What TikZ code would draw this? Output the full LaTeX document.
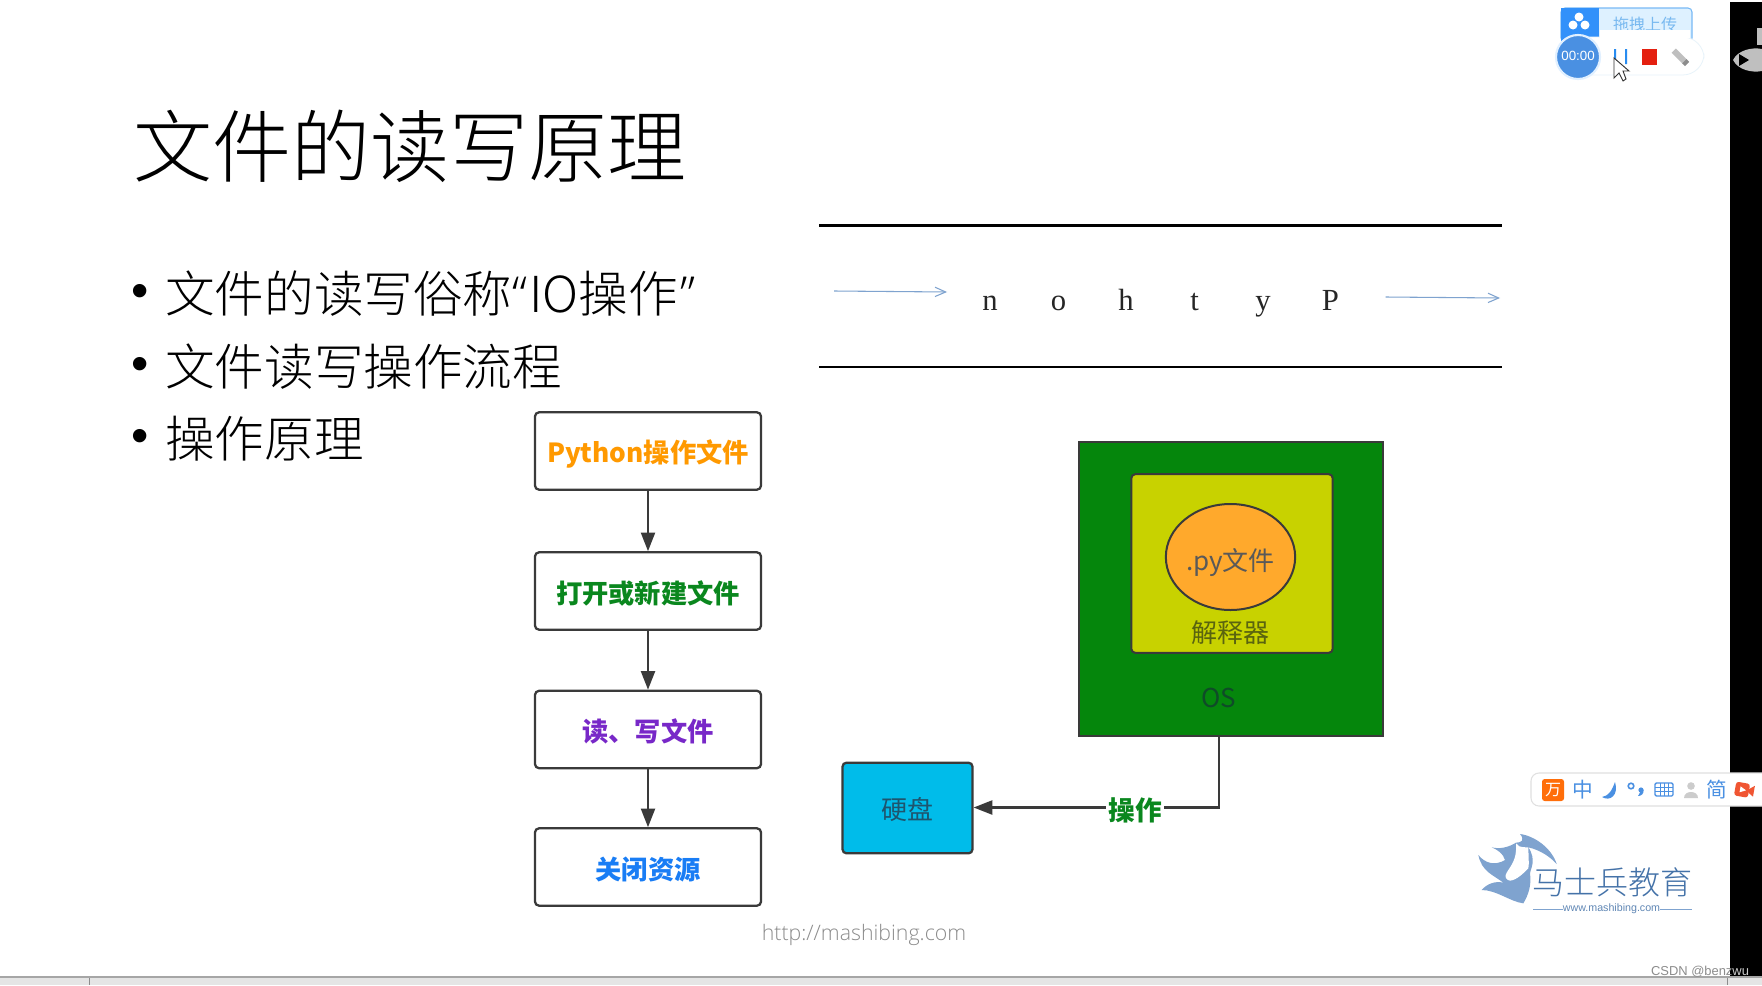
\documentclass[tikz,border=0pt]{standalone}
\usepackage{fontspec}
\usetikzlibrary{arrows.meta,shapes.geometric,calc}
\setmainfont{Liberation Sans}
\newfontfamily\cjk{Noto Sans CJK SC}
\newfontfamily\cjklight[UprightFont=* Light]{Noto Sans CJK SC}
\newfontfamily\serifl{Liberation Serif}
\newfontfamily\urlf[UprightFont=* Light]{Open Sans}
\newfontfamily\quotef[UprightFont=* Light]{Open Sans}
\definecolor{osgreen}{HTML}{05860C}
\definecolor{interp}{HTML}{C8D200}
\definecolor{orangefill}{HTML}{FFA92C}
\definecolor{cyanfill}{HTML}{00BCEA}
\definecolor{edge}{HTML}{3A3A3A}
\definecolor{logoblue}{HTML}{7FA3CF}
\definecolor{logotext}{HTML}{4472A8}
\definecolor{imeblue}{HTML}{4A90E2}
\definecolor{txorange}{RGB}{255,153,0}
\definecolor{txgreen}{RGB}{10,135,30}
\definecolor{txpurple}{RGB}{120,40,200}
\definecolor{txblue}{RGB}{25,125,245}
\definecolor{txinterp}{RGB}{90,100,15}
\definecolor{txos}{RGB}{15,75,40}
\definecolor{txdisk}{RGB}{30,85,110}
\definecolor{uplight}{RGB}{222,241,255}
\definecolor{upedge}{RGB}{120,185,245}
\definecolor{upblue}{RGB}{50,145,250}
\definecolor{uptext}{RGB}{120,185,240}
\definecolor{strip}{RGB}{232,243,250}
\definecolor{ring}{RGB}{225,240,255}
\definecolor{pausec}{RGB}{40,140,240}
\definecolor{recred}{RGB}{228,32,16}
\definecolor{imeorange}{RGB}{255,110,10}
\definecolor{camred}{RGB}{240,85,50}
\newcommand{\lowered}[2]{\raisebox{-#1pt}[0pt][0pt]{#2}}
\tikzset{
  flowbox/.style={draw=edge,line width=1.7pt,rounded corners=3pt,fill=white,minimum width=169.5pt,minimum height=58pt,inner sep=0pt,font=\cjk\bfseries\fontsize{19.7pt}{24pt}\selectfont},
  flowarrow/.style={draw=edge,line width=1.7pt,-{Triangle[length=14pt,width=10.5pt]}},
  slidetext/.style={anchor=west,inner sep=0pt,font=\cjklight\fontsize{37.2pt}{40pt}\selectfont},
  bulletmark/.style={anchor=center,inner sep=0pt,font=\fontsize{37pt}{40pt}\selectfont},
  rule/.style={line width=2pt,black},
  thinarrow/.style={draw=logoblue,line width=.8pt,-{Straight Barb[length=8pt,width=7pt]}},
  letter/.style={anchor=base,inner sep=0pt,font=\serifl\fontsize{23pt}{25pt}\selectfont,text=black!85},
  difflabel/.style={inner sep=0pt,font=\cjk\fontsize{19.5pt}{22pt}\selectfont},
  imeicon/.style={inner sep=0pt,text=imeblue,font=\cjk\fontsize{15.5pt}{16pt}\selectfont}
}
\begin{document}
\begin{tikzpicture}[x=.75pt,y=-.75pt]
\useasboundingbox (0,0) rectangle (1762,985);
\fill[white] (0,0) rectangle (1762,985);
% right black bar and bottom bar
\fill[black] (1730,2) rectangle (1762,976);
\fill[white] (1731,773) rectangle (1762,806);
\fill[black!10] (0,976) rectangle (1762,985);
\fill[black!35] (0,976) rectangle (1762,978);
\draw[black!45,line width=.6pt] (89,978) -- (89,985) (1727,978) -- (1727,985);
% bilibili mark on the bar
\fill[black!25] (1733,60) .. controls (1738,50) and (1752,47) .. (1762,49) -- (1762,71) .. controls (1752,73) and (1738,70) .. (1733,60) -- cycle;
\fill[black] (1739,54) -- (1749,60) -- (1739,66) -- cycle;
\fill[black!25] (1757,28) rectangle (1762,45);
% title
\node[slidetext,font=\cjklight\fontsize{59.3pt}{62pt}\selectfont] (title) at (133,146.5) {文件的读写原理};
% bullets
\node[bulletmark] (b1) at (140,296) {•};
\node[slidetext] (t1) at (165,294) {文件的读写俗称{\quotef “}\kern1.5pt IO操作\kern1.5pt{\quotef ”}};
\node[bulletmark] (b2) at (140,369) {•};
\node[slidetext] (t2) at (165,366.5) {文件读写操作流程};
\node[bulletmark] (b3) at (140,441) {•};
\node[slidetext] (t3) at (165,439) {操作原理};
% flow
\node[flowbox,text=txorange] (f1) at (648,451) {\lowered{8.6}{Python操作文件}};
\node[flowbox,text=txgreen] (f2) at (648,591) {\lowered{9}{打开或新建文件}};
\node[flowbox,text=txpurple] (f3) at (648,729.5) {\lowered{9}{读、写文件}};
\node[flowbox,text=txblue] (f4) at (648,867) {\lowered{9}{关闭资源}};
\draw[flowarrow] (f1) -- (f2);
\draw[flowarrow] (f2) -- (f3);
\draw[flowarrow] (f3) -- (f4);
% stream
\coordinate (la) at (819,225.5); \coordinate (lb) at (1502,225.5);
\coordinate (lc) at (819,367); \coordinate (ld) at (1502,367);
\draw[rule] (la) -- (lb);
\draw[rule] (lc) -- (ld);
\coordinate (a1) at (834,291); \coordinate (a2) at (947,292);
\coordinate (a3) at (1385.5,297); \coordinate (a4) at (1500,298);
\draw[thinarrow] (a1) -- (a2);
\draw[thinarrow] (a3) -- (a4);
\node[letter] (ln) at (990,310) {n};
\node[letter] (lo) at (1058.5,310) {o};
\node[letter] (lh) at (1126,310) {h};
\node[letter] (lt) at (1194.5,310) {t};
\node[letter] (ly) at (1263,310) {y};
\node[letter] (lP) at (1330.5,310) {P};
% OS box
\node[draw=edge,line width=1.7pt,fill=osgreen,minimum width=228pt,minimum height=220.5pt,inner sep=0pt] (os) at (1231,589) {};
\node[draw=edge,line width=1.5pt,fill=interp,rounded corners=3pt,minimum width=151pt,minimum height=134pt,inner sep=0pt] (ip) at (1232,563.5) {};
\node[ellipse,draw=edge,line width=1.5pt,fill=orangefill,minimum width=97pt,minimum height=79.5pt,inner sep=0pt,difflabel,text=black!65] (py) at (1230.5,557) {\lowered{9.8}{.py文件}};
\node[difflabel,text=txinterp] (jsq) at (1230.5,633) {解释器};
\node[difflabel,text=txos] (oslabel) at (1219,698) {OS};
\node[draw=edge,line width=1.7pt,fill=cyanfill,rounded corners=3pt,minimum width=97.5pt,minimum height=68pt,inner sep=0pt,difflabel,text=txdisk] (disk) at (907.5,808) {\lowered{8.8}{硬盘}};
\coordinate (start) at (1219,736);
\coordinate (corner) at (1219,807.5);
\draw[flowarrow] (start) -- (corner) -- (disk.east |- corner);
\node[fill=white,inner sep=1.5pt,text=txgreen,font=\cjk\bfseries\fontsize{20pt}{22pt}\selectfont] (op) at (1135,810) {操作};
% url
\node[inner sep=0pt,text=black!45,font=\urlf\fontsize{16pt}{18pt}\selectfont] (url) at (864,934.5) {http://mashibing.com};
% upload widget
\fill[uplight,draw=upedge,line width=.8pt,rounded corners=3pt] (1561,8) rectangle (1692,42);
\fill[upblue] (1561.4,8.4) rectangle (1599,42);
\fill[white] (1573,25) circle (4.5) (1585,25) circle (4.5) (1579,17) circle (4.5);
\node[inner sep=0pt,text=uptext,font=\cjk\fontsize{12pt}{14pt}\selectfont] (up) at (1645,24) {拖拽上传};
\fill[white,draw=strip,line width=.6pt,rounded corners=16pt] (1556,37) rectangle (1704,75);
\fill[white] (1600,30) rectangle (1690,37.5);
\fill[imeblue,draw=ring,line width=1.6pt] (1578,57) circle (22);
\node[inner sep=0pt,text=white,font=\fontsize{10pt}{12pt}\selectfont] (tm) at (1578,56) {00:00};
\fill[pausec] (1614,49) rectangle (1616,64) (1625,49) rectangle (1627,64);
\fill[recred] (1642,49) rectangle (1657,65);
\fill[black!25,rotate around={-45:(1680,57)}] (1671,54) rectangle (1687,60);
\fill[black!45,rotate around={-45:(1680,57)}] (1686,54) rectangle (1690,60);
\fill[white,draw=black!80,line width=.7pt] (1614,58) -- (1614,78) -- (1619,73) -- (1623,81) -- (1626,79) -- (1623,71) -- (1629,71) -- cycle;
% IME bar
\fill[white,draw=black!12,line width=.8pt,rounded corners=6pt] (1531,773) rectangle (1780,806);
\fill[imeorange,rounded corners=2pt] (1542,779) rectangle (1564,801);
\node[inner sep=0pt,text=white,font=\cjk\fontsize{12pt}{13pt}\selectfont] (ime0) at (1553,790) {万};
\node[imeicon] (ime1) at (1583,790) {中};
\fill[imeblue] (1615,782) .. controls (1619,795) and (1610,802) .. (1602,797) .. controls (1609,796) and (1612,790) .. (1615,782) -- cycle;
\draw[imeblue,line width=1.2pt] (1631,786) circle (2.8);
\fill[imeblue] (1641,790) circle (2.6);
\fill[imeblue] (1643.5,790) .. controls (1644,794) and (1641,796) .. (1638,796) .. controls (1640,794) and (1640,792) .. (1640,790) -- cycle;
\draw[imeblue,line width=1pt,rounded corners=1pt] (1655,783) rectangle (1673,796);
\draw[imeblue,line width=.7pt] (1655,787.5) -- (1673,787.5) (1655,791.5) -- (1673,791.5) (1660,783) -- (1660,796) (1664,783) -- (1664,796) (1668,783) -- (1668,796);
\fill[black!20] (1691,786) circle (3.8) (1684,798) .. controls (1684,790) and (1698,790) .. (1698,798) -- cycle;
\node[imeicon] (ime3) at (1717,790) {简};
\begin{scope}[rotate around={-10:(1744,790)}]
\fill[camred,rounded corners=2pt] (1735,783) rectangle (1749,797);
\fill[camred] (1749,788) -- (1754,784) -- (1754,795) -- (1749,792) -- cycle;
\fill[white] (1740,787) -- (1746,790) -- (1740,793) -- cycle;
\end{scope}
% logo
\begin{scope}[shift={(1460,760)},x=.25pt,y=-.25pt]
\fill[logoblue] (180,222) .. controls (225,228) and (275,265) .. (290,312) .. controls (270,290) and (240,270) .. (205,262)
 .. controls (230,300) and (212,325) .. (210,340) .. controls (215,375) and (205,405) .. (190,430)
 .. controls (150,425) and (110,390) .. (65,390) .. controls (80,372) and (105,362) .. (130,368)
 .. controls (100,345) and (65,335) .. (55,285) .. controls (75,310) and (105,318) .. (135,300)
 .. controls (130,280) and (110,268) .. (95,262) .. controls (120,268) and (145,262) .. (168,248)
 .. controls (185,248) and (195,240) .. (180,222) -- cycle;
\fill[white] (168,250) .. controls (172,258) and (178,262) .. (205,262) .. controls (205,285) and (208,310) .. (205,325)
 .. controls (190,340) and (170,360) .. (150,362) .. controls (138,360) and (132,350) .. (140,338)
 .. controls (150,320) and (172,300) .. (168,250) -- cycle;
\end{scope}
\node[inner sep=0pt,text=logotext,font=\cjklight\fontsize{24pt}{26pt}\selectfont] (logo) at (1612.5,882) {马士兵教育};
\node[inner sep=0pt,text=logotext!85,font=\fontsize{8pt}{10pt}\selectfont] (logourl) at (1611.5,909) {www.mashibing.com};
\draw[logoblue,line width=.7pt] (1533,909) -- (logourl.west) (logourl.east) -- (1692,909);
\node[inner sep=0pt,font=\fontsize{9.7pt}{12pt}\selectfont] (csdn) at (1700,971.5) {\textcolor{black!45}{CSDN @benz}\textcolor{black!20}{wu}};
\end{tikzpicture}
\end{document}
